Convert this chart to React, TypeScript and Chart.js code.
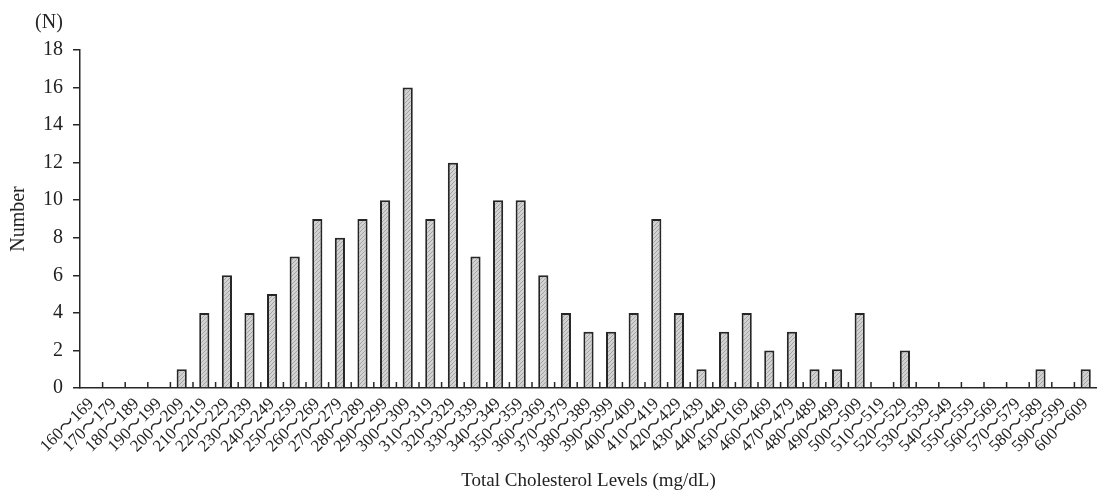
import { useEffect, useRef } from "react";
import { Chart, registerables } from "chart.js";

Chart.register(...registerables);

const categories: string[] = [
  "160～169", "170～179", "180～189", "190～199", "200～209", "210～219", "220～229",
  "230～239", "240～249", "250～259", "260～269", "270～279", "280～289", "290～299",
  "300～309", "310～319", "320～329", "330～339", "340～349", "350～359", "360～369",
  "370～379", "380～389", "390～399", "400～409", "410～419", "420～429", "430～439",
  "440～449", "450～169", "460～469", "470～479", "480～489", "490～499", "500～509",
  "510～519", "520～529", "530～539", "540～549", "550～559", "560～569", "570～579",
  "580～589", "590～599", "600～609",
];

const counts: number[] = [
  0, 0, 0, 0, 1, 4, 6,
  4, 5, 7, 9, 8, 9, 10,
  16, 9, 12, 7, 10, 10, 6,
  4, 3, 3, 4, 9, 4, 1,
  3, 4, 2, 3, 1, 1, 4,
  0, 2, 0, 0, 0, 0, 0,
  1, 0, 1,
];

const yTicks: number[] = [0, 2, 4, 6, 8, 10, 12, 14, 16, 18];

const SERIF = "'Liberation Serif', 'DejaVu Serif', serif";
const LABEL_FONT = "'Liberation Serif', 'Noto Sans CJK JP', serif";
const INK = "#262626";

function makePattern(): CanvasPattern | string {
  const pc = document.createElement("canvas");
  pc.width = 4;
  pc.height = 4;
  const c = pc.getContext("2d");
  if (!c) return "#c4c4c4";
  c.fillStyle = "#d2d2d2";
  c.fillRect(0, 0, 4, 4);
  c.strokeStyle = "#a4a4a4";
  c.lineWidth = 1;
  c.beginPath();
  c.moveTo(0, 4);
  c.lineTo(4, 0);
  c.stroke();
  const ctx = document.createElement("canvas").getContext("2d");
  const p = ctx ? ctx.createPattern(pc, "repeat") : null;
  return p || "#c4c4c4";
}

const extrasPlugin = {
  id: "extras",
  afterDraw(chart: any) {
    const ctx = chart.ctx;
    const xs = chart.scales.x;
    const area = chart.chartArea;
    ctx.save();
    ctx.strokeStyle = INK;
    ctx.lineWidth = 1.5;
    for (let i = 1; i < categories.length; i++) {
      const x = (xs.getPixelForValue(i - 1) + xs.getPixelForValue(i)) / 2;
      ctx.beginPath();
      ctx.moveTo(x, area.bottom);
      ctx.lineTo(x, area.bottom - 6);
      ctx.stroke();
    }
    ctx.fillStyle = INK;
    ctx.font = `20px ${SERIF}`;
    ctx.textAlign = "center";
    ctx.textBaseline = "middle";
    ctx.fillText("(N)", area.left - 31, 23);
    ctx.restore();
  },
};

export default function App() {
  const ref = useRef<HTMLCanvasElement>(null);
  useEffect(() => {
    document.body.style.margin = "0";
    if (!ref.current) return;
    const chart = new Chart(ref.current, {
      type: "bar",
      data: {
        labels: categories,
        datasets: [
          {
            data: counts,
            backgroundColor: makePattern() as any,
            borderColor: INK,
            borderWidth: 2,
            barPercentage: 0.45,
            categoryPercentage: 1,
          },
        ],
      },
      options: {
        animation: false,
        responsive: false,
        layout: { padding: { left: 0, top: 50, right: -3, bottom: 0 } },
        plugins: { legend: { display: false }, tooltip: { enabled: false } },
        scales: {
          x: {
            type: "category",
            offset: true,
            grid: { display: false, drawTicks: false },
            border: { display: true, color: INK, width: 1.5 },
            ticks: {
              autoSkip: false,
              maxRotation: 45,
              minRotation: 45,
              padding: 6,
              color: "#222",
              font: { family: LABEL_FONT, size: 17 },
            },
            title: {
              display: true,
              text: "Total Cholesterol Levels (mg/dL)",
              color: "#222",
              font: { family: SERIF, size: 19 },
              padding: { top: 0, bottom: 5 },
            },
            afterFit: (s: any) => {
              s.height = 109;
              s.paddingRight = 0;
              s.paddingLeft = 0;
            },
          },
          y: {
            min: 0,
            max: 18,
            afterBuildTicks: (s: any) => {
              s.ticks = yTicks.map((v) => ({ value: v }));
            },
            grid: {
              drawOnChartArea: false,
              drawTicks: true,
              tickLength: 7,
              color: INK,
              lineWidth: 1.5,
            },
            border: { display: true, color: INK, width: 1.5 },
            ticks: {
              padding: 10,
              color: "#222",
              font: { family: SERIF, size: 20 },
            },
            title: {
              display: true,
              text: "Number",
              color: "#222",
              font: { family: SERIF, size: 20 },
              padding: { top: 7, bottom: 0 },
            },
            afterFit: (s: any) => {
              s.width = 80;
            },
          },
        },
      },
      plugins: [extrasPlugin],
    });
    return () => chart.destroy();
  }, []);
  return (
    <div style={{ width: 1097, height: 497 }}>
      <canvas ref={ref} width={1097} height={497} style={{ display: "block" }} />
    </div>
  );
}
